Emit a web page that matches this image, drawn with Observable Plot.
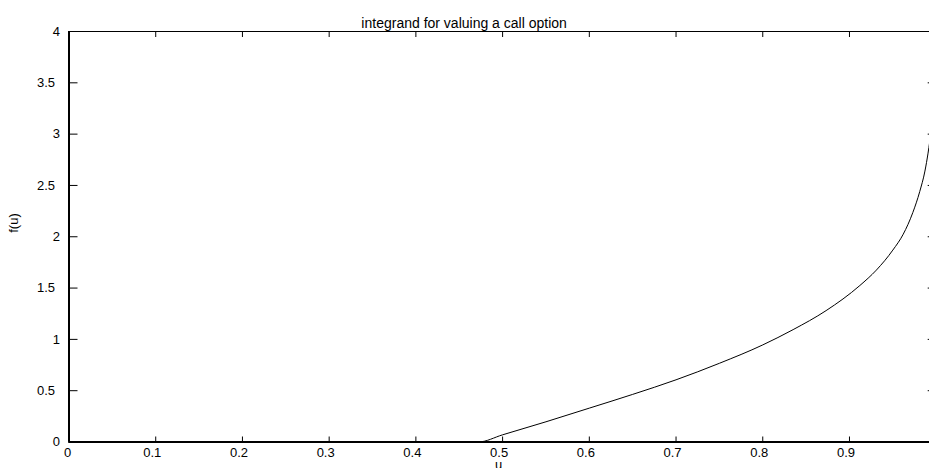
<!DOCTYPE html>
<html><head><meta charset="utf-8">
<script src="https://cdn.jsdelivr.net/npm/d3@7"></script>
<script src="https://cdn.jsdelivr.net/npm/@observablehq/plot@0.6"></script>
<style>body{margin:0;background:#fff} #chart svg{display:block}</style>
</head><body><div id="chart"></div>
<script>
const titleText = "integrand for valuing a call option";
const xLabel = "u";
const yLabel = "f(u)";
const uVals = [0, 0.472, 0.50, 0.55, 0.60, 0.65, 0.70, 0.75, 0.80, 0.835, 0.873, 0.912, 0.931, 0.950, 0.962, 0.973, 0.981, 0.987, 0.9906, 0.9925];
const fVals = [0, 0, 0.070, 0.197, 0.330, 0.464, 0.606, 0.767, 0.946, 1.095, 1.280, 1.525, 1.675, 1.870, 2.025, 2.235, 2.440, 2.640, 2.815, 2.925];
const xTicks = [0, 0.1, 0.2, 0.3, 0.4, 0.5, 0.6, 0.7, 0.8, 0.9, 1];
const xTickLabels = ["0", "0.1", "0.2", "0.3", "0.4", "0.5", "0.6", "0.7", "0.8", "0.9"];
const yTicks = [0, 0.5, 1, 1.5, 2, 2.5, 3, 3.5, 4];
const yTicksInt = [0, 1, 2, 3, 4];
const yTicksHalf = [0.5, 1.5, 2.5, 3.5];

const data = uVals.map((u, i) => ({u, f: fVals[i]}));
const fmtX = d => xTickLabels[xTicks.indexOf(d)];

const chart = Plot.plot({
  width: 929, height: 468,
  marginLeft: 68.5, marginRight: -6.7, marginTop: 31, marginBottom: 26.5,
  style: {fontFamily: "'Liberation Sans', Arial, sans-serif", fontSize: "13px", background: "white", overflow: "hidden", color: "black"},
  x: {domain: [0, 1]},
  y: {domain: [0, 4]},
  marks: [
    Plot.frame({stroke: "black", strokeWidth: 1}),
    Plot.ruleX([0], {stroke: "black", strokeWidth: 2}),
    Plot.ruleY([0], {stroke: "black", strokeWidth: 2}),
    Plot.axisX(xTicks, {anchor: "bottom", tickSize: -5, tickFormat: () => "", label: null}),
    Plot.axisX(xTicks, {anchor: "top", tickSize: -5, tickFormat: () => "", label: null}),
    Plot.axisY(yTicks, {anchor: "left", tickSize: -9, tickFormat: () => "", label: null}),
    Plot.axisY(yTicks, {anchor: "right", tickSize: -9, tickFormat: () => "", label: null}),
    Plot.axisX(xTicks.slice(0, 1), {anchor: "bottom", tickSize: 0, tickPadding: 5.5, dx: -1.5, label: null, tickFormat: fmtX}),
    Plot.axisX(xTicks.slice(1, 10), {anchor: "bottom", tickSize: 0, tickPadding: 5.5, dx: -3.5, label: null, tickFormat: fmtX}),
    Plot.axisY(yTicksInt, {anchor: "left", tickSize: 0, tickPadding: 9, label: null, tickFormat: d => String(d)}),
    Plot.axisY(yTicksHalf, {anchor: "left", tickSize: 0, tickPadding: 14, label: null, tickFormat: d => String(d)}),
    Plot.line(data, {x: "u", y: "f", stroke: "black", strokeWidth: 1, curve: "monotone-x"}),
    Plot.text([titleText], {frameAnchor: "top", dy: -13.5, dx: -38.5, fontSize: 14, fill: "black"}),
    Plot.text([xLabel], {frameAnchor: "bottom", dy: 27, fontSize: 13, fill: "black", dx: -4}),
    Plot.text([yLabel], {frameAnchor: "left", rotate: -90, dx: -55.5, dy: -4, fontSize: 13, fill: "black"})
  ]
});
document.getElementById("chart").append(chart);
</script>
</body></html>
